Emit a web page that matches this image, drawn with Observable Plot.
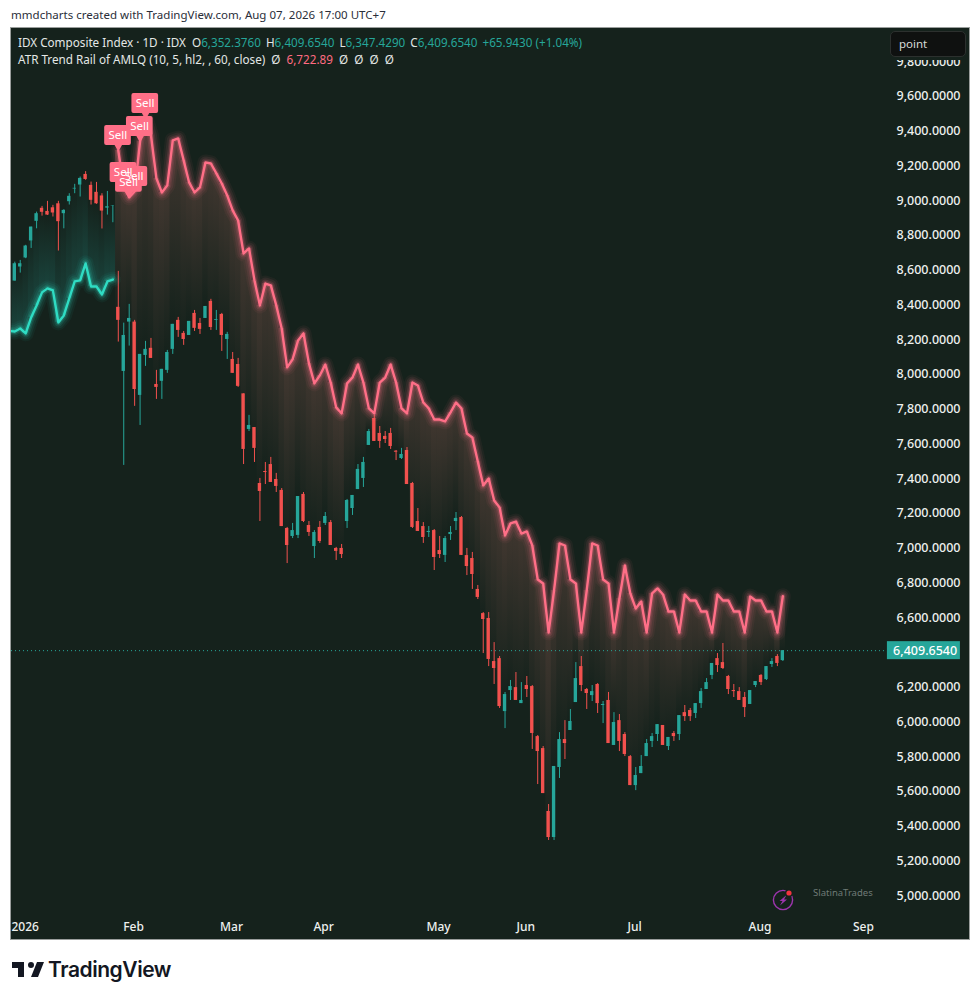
<!DOCTYPE html>
<html><head><meta charset="utf-8">
<script src="https://cdn.jsdelivr.net/npm/d3@7"></script>
<script src="https://cdn.jsdelivr.net/npm/@observablehq/plot@0.6"></script>
<style>
html,body{margin:0;padding:0;background:#fff}
#page{position:relative;width:980px;height:1000px;overflow:hidden;font-family:"Noto Sans",sans-serif}
#chart{position:absolute;left:11px;top:28px;width:958px;height:911px;outline:1px solid #9a9e9c}
#chart svg{display:block}
.o{position:absolute;white-space:pre}
.g{margin-left:2px}
</style></head><body>
<div id="page">
<div class="o" style="left:11px;top:7px;font-size:11.5px;color:#2a2e39;letter-spacing:.02px">mmdcharts created with TradingView.com, Aug 07, 2026 17:00 UTC+7</div>
<div id="chart"></div>
<div class="o" style="left:18px;top:34px;font-size:11.7px;color:#e4e8e6">IDX Composite Index · 1D · IDX  O<span class="v">6,352.3760</span> <span class="g">H</span><span class="v">6,409.6540</span> <span class="g">L</span><span class="v">6,347.4290</span> <span class="g">C</span><span class="v">6,409.6540</span> <span class="g v">+65.9430 (+1.04%)</span></div>
<div class="o" style="left:18px;top:51px;font-size:11.7px;color:#e4e8e6">ATR Trend Rail of AMLQ (10, 5, hl2, , 60, close)  Ø  <span style="color:#ff6b81">6,722.89</span>  Ø  Ø  Ø  Ø</div>
<div class="o" style="left:886px;top:28px;width:83px;height:32px;background:#15221c"></div>
<div class="o" style="left:890px;top:31px;width:76px;height:26px;box-sizing:border-box;background:#0f1110;border:1px solid #2c302e;border-radius:5px;color:#d8dbd9;font-size:11.5px;line-height:24px;padding-left:8px">point</div>
<svg class="o" style="left:770px;top:887px" width="26" height="26" viewBox="0 0 26 26">
<circle cx="13" cy="13" r="9.6" fill="none" stroke="#9c35ad" stroke-width="1.4"/>
<path d="M16.5 8 L9.5 14 L12.5 14 L10 18.5 L17 12.5 L14 12.5 Z" fill="#9c35ad"/>
<circle cx="19" cy="6" r="4" fill="#15221c"/><circle cx="19" cy="6" r="2.6" fill="#f2333f"/>
</svg>
<div class="o" style="left:813px;top:886px;font-size:9.5px;color:#6f7a76">SlatinaTrades</div>
<svg class="o" style="left:10px;top:956px" width="36" height="28" viewBox="0 0 36 28"><path fill="#131722" d="M14 6H2v6h6v9h6V6zm14 15h-7l6-15h7l-6 15zm-7-9a3 3 0 1 0 0-6 3 3 0 0 0 0 6z"/></svg>
<div class="o" style="left:48px;top:957px;font-family:Inter,sans-serif;font-size:21px;font-weight:600;color:#131722;letter-spacing:-.45px">TradingView</div>
</div>
<script>
const opens = [8537,8618,8670,8768,8881,8956,8938,8959,8982,8925,8994,9067,9090,9151,9088,9048,9027,8957,8967,8386,8017,8301,8301,7879,8109,8150,7942,7960,8023,8144,8311,8236,8224,8351,8293,8322,8420,8311,8345,8201,8086,8057,7888,7683,7694,7372,7441,7481,7395,7332,7113,7067,7073,7309,7130,7009,7119,7142,7147,6998,6998,7153,7228,7337,7401,7591,7746,7660,7643,7660,7558,7516,7562,7372,7153,7124,7090,7101,6986,6958,7078,7153,7176,6957,6940,6762,6623,6595,6347,6364,6059,6180,6197,6105,6209,6203,5915,5846,5484,5334,5737,5898,5950,6111,6318,6186,6151,6215,6094,6123,5864,6007,5927,5800,5633,5702,5800,5887,5927,5979,5858,5933,5927,6053,6065,6048,6105,6186,6267,6364,6341,6261,6180,6174,6140,6100,6209,6267,6243,6330,6376,6352.376];
const highs = [8646,8656,8743,8848,8934,8967,8996,8973,8996,8948,9040,9094,9136,9167,9107,9105,9040,9053,8971,8593,8295,8403,8311,8115,8190,8207,8023,8029,8138,8288,8328,8247,8305,8368,8322,8391,8432,8368,8351,8242,8126,8092,7888,7764,7694,7401,7493,7522,7430,7343,7119,7142,7297,7320,7153,7101,7153,7205,7159,7004,7021,7280,7303,7481,7522,7683,7764,7700,7671,7689,7562,7574,7579,7378,7228,7147,7124,7107,7067,7067,7124,7205,7182,6998,6975,6785,6629,6629,6456,6376,6169,6238,6284,6226,6261,6209,5921,5858,5524,5743,5938,6007,6071,6341,6376,6192,6209,6220,6117,6169,6053,6042,5938,5806,5737,5806,5898,5933,5984,5979,5910,5944,6036,6094,6077,6105,6192,6249,6336,6393,6451,6267,6215,6197,6169,6180,6232,6272,6318,6364,6387,6409.654];
const lows = [8537,8583,8666,8725,8838,8911,8915,8906,8710,8838,8975,9040,9021,9117,8975,8979,8837,8917,8873,8186,7476,8163,7816,7706,8046,8092,7856,7856,8006,8115,8213,8167,8224,8247,8230,8322,8253,8253,8132,8086,8006,7925,7481,7671,7493,7153,7366,7378,7320,7124,6911,7055,7055,7147,7067,6940,7027,7130,7015,6929,6940,7113,7188,7337,7349,7591,7614,7574,7602,7568,7504,7510,7366,7113,7096,7027,7061,6871,6940,6917,7044,7101,6958,6842,6762,6704,6393,6318,6215,6077,5961,6123,6123,6105,6140,5841,5639,5587,5317,5317,5674,5783,5950,6111,6174,6071,6117,6048,5990,5875,5864,5829,5800,5633,5604,5702,5800,5852,5887,5864,5835,5887,5892,6002,6002,6019,6077,6186,6243,6284,6301,6157,6140,6123,6025,6100,6197,6209,6238,6313,6318,6347.429];
const closes = [8637,8637,8739,8848,8925,8933,8917,8929,8879,8944,9025,9071,9128,9122,9002,8982,8940,8965,8969,8311,8224,8322,7913,8115,8144,8092,7925,8029,8126,8288,8253,8201,8305,8265,8259,8391,8270,8316,8224,8230,8006,7931,7568,7706,7574,7326,7435,7378,7355,7124,7015,7101,7297,7153,7090,7090,7038,7182,7015,6981,6963,7274,7303,7453,7493,7671,7614,7614,7625,7585,7552,7539,7366,7119,7096,7061,7096,6946,6963,7055,7090,7171,6958,6894,6848,6716,6589,6359,6307,6088,6157,6203,6123,6123,6186,5933,5829,5587,5334,5743,5898,5875,6002,6249,6209,6163,6174,6105,6100,5875,5996,5887,5812,5633,5691,5743,5875,5915,5984,5864,5910,5915,6036,6030,6030,6105,6174,6226,6336,6324,6307,6186,6174,6123,6082,6180,6232,6226,6318,6347,6336,6409.654];
// ATR rail below price (uptrend): bars -1..18, and above price (downtrend): bars 19..141
const railUp = [8250,8247,8264,8236,8328,8397,8472,8495,8483,8299,8339,8437,8535,8541,8639,8506,8506,8460,8535,8546];
const railDown = [9289,9076,9019,9053,9341,9473,9375,9128,9047,9088,9347,9358,9232,9105,9047,9076,9220,9214,9157,9099,9030,8944,8886,8696,8725,8541,8397,8523,8512,8397,8264,8040,8086,8195,8236,8063,7948,7994,8057,7953,7810,7775,7948,7982,8057,7953,7804,7775,7953,7982,8057,7953,7804,7775,7953,7936,7838,7804,7740,7740,7729,7781,7838,7804,7660,7637,7499,7361,7401,7274,7234,7073,7142,7153,7084,7096,7015,6819,6796,6514,6756,7027,7015,6819,6796,6514,6756,7027,7015,6819,6796,6514,6710,6900,6739,6652,6693,6514,6739,6768,6733,6635,6635,6514,6733,6698,6698,6635,6635,6514,6733,6698,6698,6635,6635,6514,6721,6698,6698,6635,6635,6514,6722.89];
const sellBars = [19,20,22,21,23,24];
// 6,400 is covered by the last-price tag in the reference
const priceTicks = [5000,5200,5400,5600,5800,6000,6200,6600,6800,7000,7200,7400,7600,7800,8000,8200,8400,8600,8800,9000,9200,9400,9600,9800];
const monthLabels = ["2026","Feb","Mar","Apr","May","Jun","Jul","Aug","Sep"];
const monthBars = [1.9,21.8,39.8,56.7,77.8,93.8,113.8,136.8,155.8];

const BG = "#15221c", UP = "#26a69a", DOWN = "#f2514e", PINK = "#ff6f87", TEAL = "#2fdcc3", TXT = "#eef1ef";
const FONT = '"Noto Sans",sans-serif';
const bars = closes.map((c,i)=>({i,o:opens[i],h:highs[i],l:lows[i],c}));
const up = railUp.map((v,k)=>({i:k-1,v}));
const down = railDown.map((v,k)=>({i:k+19,v}));
const upFill = up.filter(d=>d.i>=0).map(d=>({...d,c:closes[d.i]}));
const downFill = down.map(d=>({...d,c:closes[d.i]}));
const last = closes[closes.length-1];
const pxPrice = 5.757; // one pixel on the price scale
const sells = sellBars.map(i=>({i,v:railDown[i-19]}));

function defs(){
  const d = d3.create("svg:defs");
  const g1 = d.append("linearGradient").attr("id","fadeDown").attr("x1",0).attr("x2",0).attr("y1",0).attr("y2",1);
  g1.append("stop").attr("offset","0%").attr("stop-color","#f08a7e").attr("stop-opacity",0.2);
  g1.append("stop").attr("offset","100%").attr("stop-color","#f08a7e").attr("stop-opacity",0);
  const g2 = d.append("linearGradient").attr("id","fadeUp").attr("x1",0).attr("x2",0).attr("y1",1).attr("y2",0);
  g2.append("stop").attr("offset","0%").attr("stop-color",UP).attr("stop-opacity",0.26);
  g2.append("stop").attr("offset","100%").attr("stop-color",UP).attr("stop-opacity",0);
  return d.node();
}
const glow = (data,color)=>[[16,0.05],[12,0.08],[8,0.12],[5,0.2]].map(([w,a])=>
  Plot.line(data,{x:"i",y:"v",stroke:color,strokeWidth:w,strokeOpacity:a,clip:true}))
  .concat(Plot.line(data,{x:"i",y:"v",stroke:color,strokeWidth:2.4,clip:true}));

const sellBoxes = sells.flatMap(d=>[
  Plot.rect([d],{x1:e=>e.i-2.5,x2:e=>e.i+2.4,y1:e=>e.v+5*pxPrice,y2:e=>e.v+25*pxPrice,fill:PINK,rx:2}),
  Plot.dot([d],{x:"i",y:e=>e.v+4*pxPrice,symbol:"triangle",r:3.2,fill:PINK,rotate:180})
]);
const sellTexts = Plot.text(sells,{x:d=>d.i-0.1,y:d=>d.v+15*pxPrice,text:()=>"Sell",fill:"#fff",fontSize:11.5,fontFamily:FONT});

const chart = Plot.plot({
  width:958,height:911,margin:0,
  style:{background:BG,fontFamily:FONT},
  x:{type:"linear",domain:[-0.606,175.27],range:[0,958],axis:null},
  y:{type:"linear",domain:[4747,9991],range:[911,0],axis:null},
  marks:[
    defs,
    Plot.rect(upFill,{x1:d=>d.i-0.5,x2:d=>d.i+0.5,y1:"v",y2:"c",fill:"url(#fadeUp)"}),
    Plot.rect(downFill,{x1:d=>d.i-0.5,x2:d=>d.i+0.5,y1:"v",y2:"c",fill:"url(#fadeDown)"}),
    Plot.ruleY([last],{x1:-0.606,x2:160.2,stroke:UP,strokeDasharray:"1 3",strokeWidth:1}),
    Plot.ruleX(bars,{x:"i",y1:"l",y2:"h",stroke:d=>d.c>=d.o?UP:DOWN,strokeWidth:1}),
    Plot.rect(bars,{x1:d=>d.i-0.31,x2:d=>d.i+0.31,y1:"o",y2:"c",fill:d=>d.c>=d.o?UP:DOWN}),
    ...glow(up,TEAL),
    ...glow(down,PINK),
    ...sellBoxes,
    sellTexts,
    Plot.axisY(priceTicks,{anchor:"right",tickSize:0,tickPadding:0,textAnchor:"end",dx:-9,tickFormat:d3.format(",.4f"),fill:TXT,fontSize:12.5,fontWeight:500,fontFamily:FONT,label:null}),
    Plot.rect([last],{x1:160.2,x2:173.6,y1:d=>d-9*pxPrice,y2:d=>d+9*pxPrice,fill:UP}),
    Plot.text([last],{x:173.0,y:d=>d,text:d3.format(",.4f"),textAnchor:"end",fill:"#fff",fontSize:12.5,fontWeight:500,fontFamily:FONT}),
    Plot.text(monthBars,{x:d=>d,frameAnchor:"bottom",dy:-9,text:(d,i)=>monthLabels[i],fill:TXT,fontSize:12,fontWeight:500,fontFamily:FONT})
  ]
});
document.getElementById("chart").appendChild(chart);
document.querySelectorAll(".v").forEach(s=>s.style.color="#26a69a");
</script>
</body></html>
